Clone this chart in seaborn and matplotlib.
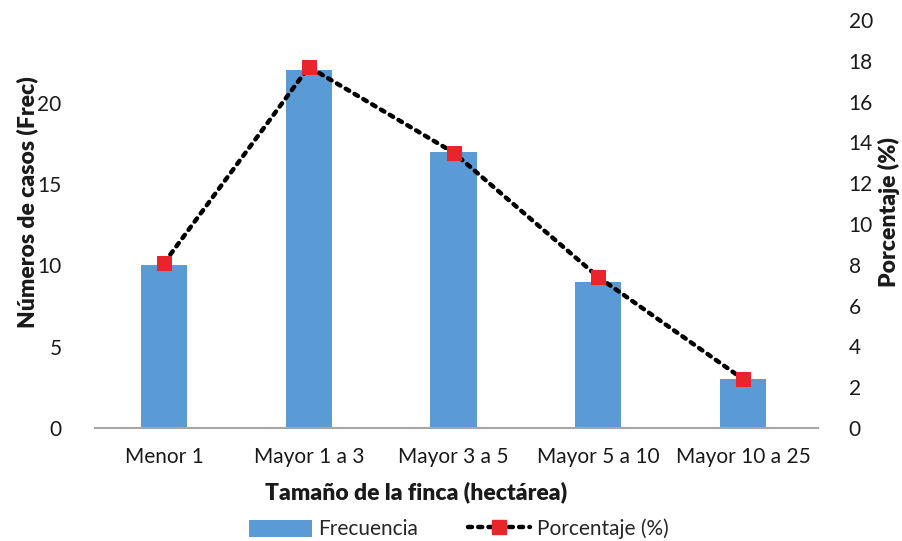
import numpy as np
import pandas as pd
import matplotlib
matplotlib.use("Agg")
import matplotlib.pyplot as plt
from matplotlib.patches import Patch
from matplotlib.lines import Line2D
import seaborn as sns

categories = ["Menor 1", "Mayor 1 a 3", "Mayor 3 a 5", "Mayor 5 a 10", "Mayor 10 a 25"]
frecuencia = [10, 22, 17, 9, 3]
porcentaje = [8.1, 17.7, 13.5, 7.4, 2.4]
left_ticks = [0, 5, 10, 15, 20]
right_ticks = [0, 2, 4, 6, 8, 10, 12, 14, 16, 18, 20]

sns.set_theme(style="white")
plt.rcParams["font.family"] = ["Lato", "DejaVu Sans"]

BAR = "#5b9bd5"
RED = "#e8252b"
TXT = "#1a1a1a"
DOTS = (0, (0.9, 1.4))

df = pd.DataFrame({"cat": categories, "frec": frecuencia, "pct": porcentaje,
                   "pos": np.arange(len(categories))})

fig = plt.figure(figsize=(9.03, 5.41), dpi=100)
ax = fig.add_axes([0.105, 0.209, 0.801, 0.754])

sns.barplot(data=df, x="cat", y="frec", color=BAR, saturation=1, width=0.32,
            ax=ax, edgecolor="none")
ax.set_xlim(-0.48, 4.52)
ax.set_ylim(0, 25.1)
ax.set_yticks(left_ticks)
ax.set_yticklabels([str(t) for t in left_ticks])
ax.tick_params(axis="y", length=0, pad=24, labelsize=15, colors=TXT)
ax.tick_params(axis="x", length=0, pad=14, labelsize=15, colors=TXT)
for s in ["top", "right", "left"]:
    ax.spines[s].set_visible(False)
ax.spines["bottom"].set_color("#a6a6a6")
ax.spines["bottom"].set_linewidth(1.5)
ax.set_xlabel("Tamaño de la finca (hectárea)", fontsize=16.5, fontweight="heavy",
              color=TXT)
ax.xaxis.set_label_coords(0.444, -0.131)
ax.set_ylabel("Números de casos (Frec)", fontsize=16.5, fontweight="heavy",
              color=TXT, va="center")
ax.yaxis.set_label_coords(-0.093, 0.554)

ax2 = ax.twinx()
sns.lineplot(data=df, x="pos", y="pct", ax=ax2, color="black", linewidth=3.2,
             linestyle=DOTS, marker="s", markersize=10.5,
             markerfacecolor=RED, markeredgecolor=RED, dash_capstyle="round")
ax2.set_ylim(0, 20)
ax2.set_yticks(right_ticks)
ax2.set_yticklabels([str(t) for t in right_ticks])
ax2.tick_params(axis="y", length=0, pad=22, labelsize=15, colors=TXT)
for s in ["top", "right", "left", "bottom"]:
    ax2.spines[s].set_visible(False)
ax2.set_ylabel("Porcentaje (%)", fontsize=16.5, fontweight="heavy", color=TXT,
               va="center")
ax2.yaxis.set_label_coords(1.098, 0.53)
ax2.set_xlabel("")

handles = [
    Patch(facecolor=BAR, edgecolor="none", label="Frecuencia"),
    Line2D([0], [0], color="black", linewidth=3.2, linestyle=DOTS,
           dash_capstyle="round", marker="s", markersize=10.5,
           markerfacecolor=RED, markeredgecolor=RED, label="Porcentaje (%)"),
]
fig.legend(handles=handles, loc="center", bbox_to_anchor=(0.508, 0.022), ncol=2,
           frameon=False, fontsize=15, handlelength=3.0, handleheight=0.9,
           columnspacing=2.4, handletextpad=0.3)

fig.savefig("out.png", dpi=100)
